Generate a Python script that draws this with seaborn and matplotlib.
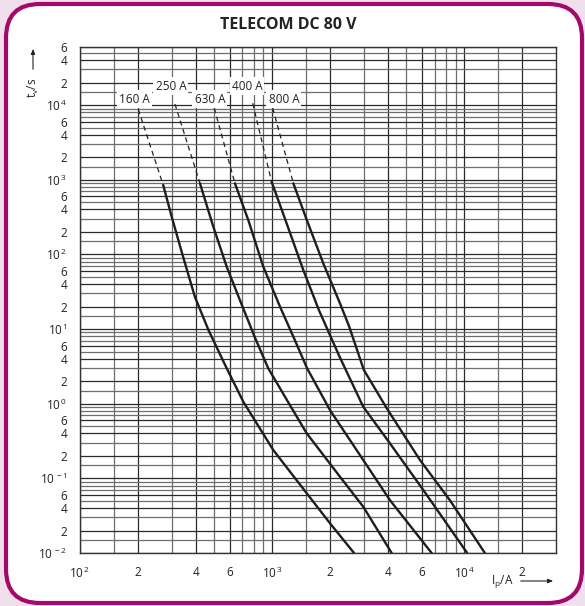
import numpy as np
import pandas as pd
import matplotlib.pyplot as plt
import seaborn as sns
from matplotlib.patches import FancyBboxPatch
from matplotlib.ticker import FixedLocator, FixedFormatter, NullFormatter

# curve names, in the order the curves appear from left to right
ratings = ["160 A", "250 A", "630 A", "400 A", "800 A"]

# dashed (extrapolated) part of each curve: [top, start of solid part]
dash_current = [[201, 271], [312, 421], [500, 640], [792, 993], [1007, 1289]]
dash_time = [[8780, 849], [10330, 896], [9060, 896], [10570, 942], [9060, 896]]

cur_160 = [271, 300, 340, 396, 466, 580, 708, 1014, 1514, 2000, 2667]
t_160 = [849, 320, 103, 27.1, 9.7, 2.98, 1.06, 0.239, 0.063, 0.025, 0.01]
cur_250 = [421, 494, 580, 679, 810, 954, 1219, 1514, 2254, 2978, 4188]
t_250 = [896, 235, 68.4, 24.5, 7.9, 2.98, 1.02, 0.40, 0.105, 0.0417, 0.01]
cur_630 = [640, 751, 899, 1099, 1289, 1520, 2000, 2978, 4102, 6760]
t_630 = [896, 289, 68.4, 19.9, 7.9, 2.98, 0.82, 0.176, 0.051, 0.01]
cur_400 = [993, 1189, 1452, 1750, 2230, 2978, 4102, 6110, 10350]
t_400 = [942, 261, 61.8, 18.0, 4.4, 0.91, 0.294, 0.070, 0.01]
cur_800 = [1289, 1514, 1845, 2254, 2520, 3000, 3946, 5876, 8410, 12790]
t_800 = [896, 289, 75.9, 22.1, 10.7, 2.83, 0.87, 0.176, 0.051, 0.01]

solid_current = [cur_160, cur_250, cur_630, cur_400, cur_800]
solid_time = [t_160, t_250, t_630, t_400, t_800]

# where the curve labels sit (current, time)
label_current = [193, 297, 474, 740, 1151]
label_time = [12050, 18000, 12050, 18000, 12050]

# axis ticks and grid
x_ticks = [100, 200, 400, 600, 1000, 2000, 4000, 6000, 10000, 20000]
x_ticklabels = [r"$\mathregular{10^{\,2}}$", "2", "4", "6", r"$\mathregular{10^{\,3}}$",
                "2", "4", "6", r"$\mathregular{10^{\,4}}$", "2"]
x_grid = [150, 300, 500, 700, 800, 900, 1500, 3000, 5000, 7000, 8000, 9000, 15000]
y_ticks = []
y_ticklabels = []
for e in range(-2, 5):
    for m in [1, 2, 4, 6]:
        y_ticks.append(m * 10.0 ** e)
        y_ticklabels.append(r"$\mathregular{10^{\,%d}}$" % e if m == 1 else str(m))
y_grid = [m * 10.0 ** e for e in range(-2, 5) for m in [1.5, 3, 5, 7, 8, 9]]
y_grid = [v for v in y_grid if v < 60000]

# build long tables for seaborn
rows = []
for name, xs, ys in zip(ratings, dash_current, dash_time):
    for x, y in zip(xs, ys):
        rows.append((name, x, y))
dash_df = pd.DataFrame(rows, columns=["rating", "current", "time"])
rows = []
for name, xs, ys in zip(ratings, solid_current, solid_time):
    for x, y in zip(xs, ys):
        rows.append((name, x, y))
solid_df = pd.DataFrame(rows, columns=["rating", "current", "time"])

sns.set_style("white")
plt.rcParams["font.family"] = ["Open Sans", "DejaVu Sans"]

fig = plt.figure(figsize=(5.85, 6.06), dpi=100)
fig.patch.set_facecolor("#f1e0eb")

# rounded magenta frame
frame = FancyBboxPatch((0.06, 0.03), 5.76, 5.99,
                       boxstyle="round,pad=0,rounding_size=0.34",
                       transform=fig.dpi_scale_trans, facecolor="white",
                       edgecolor="#a3096b", linewidth=3.0, zorder=-5)
fig.add_artist(frame)

ax = fig.add_axes([80 / 585, 1 - 553 / 606, 476 / 585, 506 / 606])
ax.set_facecolor("white")
ax.set_xscale("log")
ax.set_yscale("log")
ax.set_xlim(100, 30000)
ax.set_ylim(0.01, 60000)

ax.xaxis.set_major_locator(FixedLocator(x_ticks))
ax.xaxis.set_major_formatter(FixedFormatter(x_ticklabels))
ax.xaxis.set_minor_locator(FixedLocator(x_grid))
ax.xaxis.set_minor_formatter(NullFormatter())
ax.yaxis.set_major_locator(FixedLocator(y_ticks))
ax.yaxis.set_major_formatter(FixedFormatter(y_ticklabels))
ax.yaxis.set_minor_locator(FixedLocator(y_grid))
ax.yaxis.set_minor_formatter(NullFormatter())
ax.tick_params(which="both", length=0)
ax.tick_params(axis="x", pad=9, labelsize=8.5, colors="#222222")
ax.tick_params(axis="y", pad=9, labelsize=8.5, colors="#222222")
ax.grid(which="major", color="#2a2a2a", linewidth=0.9)
ax.grid(which="minor", color="#6e6e6e", linewidth=0.9)
ax.set_axisbelow(True)
for s in ax.spines.values():
    s.set_color("#333333")
    s.set_linewidth(1.0)

sns.lineplot(data=dash_df, x="current", y="time", units="rating", estimator=None,
             sort=False, color="#222222", linewidth=0.9, dashes=False, ax=ax)
for line in ax.lines:
    line.set_linestyle((0, (4, 3)))
sns.lineplot(data=solid_df, x="current", y="time", units="rating", estimator=None,
             sort=False, color="#1e1e1e", linewidth=1.7, ax=ax)
for line in ax.lines:
    line.set_solid_joinstyle("round")
ax.set_xlabel("")
ax.set_ylabel("")

for name, x, y in zip(ratings, label_current, label_time):
    ax.text(x, y, name, ha="center", va="center", fontsize=8.5, color="#222222",
            bbox=dict(facecolor="white", edgecolor="none", pad=1.5), zorder=5)

fig.text(0.492, 1 - 25 / 606, "TELECOM DC 80 V", ha="center", va="center",
         fontsize=11.5, fontweight="bold", color="#222222")

# axis quantities with arrows
fig.text(33 / 585, 1 - 88 / 606, r"t$_\mathregular{v}$/s", rotation=90,
         ha="center", va="center", fontsize=8.5, color="#222222")
fig.add_artist(plt.Annotation("", xy=(33 / 585, 1 - 46 / 606), xytext=(33 / 585, 1 - 72 / 606),
                              xycoords="figure fraction",
                              arrowprops=dict(arrowstyle="-|>,head_length=0.3,head_width=0.12",
                                              color="#222222", lw=0.8)))
fig.text(502 / 585, 1 - 582 / 606, r"I$_\mathregular{p}$/A", ha="center", va="center",
         fontsize=8.5, color="#222222")
fig.add_artist(plt.Annotation("", xy=(556 / 585, 1 - 581 / 606), xytext=(518 / 585, 1 - 581 / 606),
                              xycoords="figure fraction",
                              arrowprops=dict(arrowstyle="-|>,head_length=0.3,head_width=0.12",
                                              color="#222222", lw=0.8)))

fig.savefig("out.png", dpi=100, facecolor=fig.get_facecolor())
